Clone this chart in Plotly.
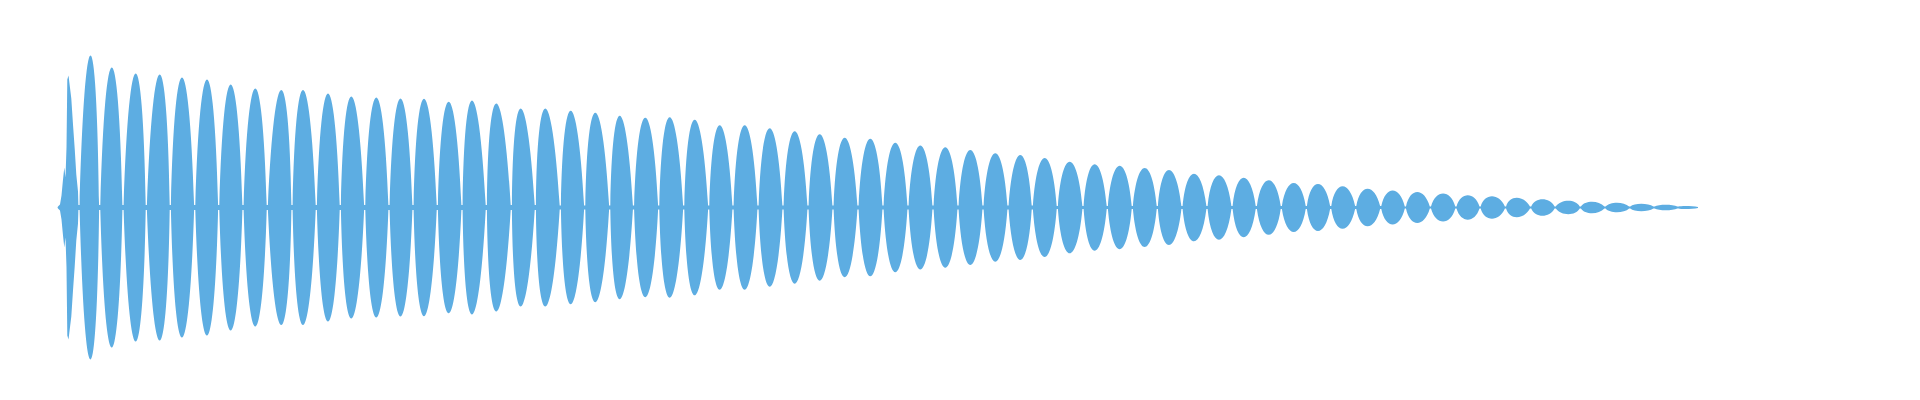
import plotly.graph_objects as go

# ---- data (time in px-like units, amplitude in px-like units) ----
# irregular attack at the start of the waveform
attack_time = [50, 52, 53.5, 55, 56.3, 57.5, 58.5, 59.3, 60.5, 63.3, 65, 66.7, 68.3, 70]
attack_amp = [1, 3, 12, 28, 40, 30, 60, 128, 132, 109, 83, 59, 33, 16]

# beat lobes (peak positions and peak amplitudes), lobes 2..67
lobe_time = [82.5, 103.8, 127.7, 151.7, 174, 199, 222.7, 247.3, 273.3, 295,
             320, 343.3, 368.3, 392.5, 416, 440.7, 464, 488.3, 512.7, 537.3,
             562.7, 587.3, 611.7, 637.3, 661.7, 686.7, 711.7, 736.7, 761.7, 786.7,
             811.7, 836.7, 862.3, 887.3, 912.3, 937.3, 962.3, 987.3, 1012.3, 1036.7,
             1061.7, 1086.7, 1111.7, 1136.7, 1161, 1186, 1211, 1235.7, 1260.7, 1285.7,
             1310, 1334.6, 1359.6, 1384.7, 1409.3, 1435.1, 1459.8, 1484, 1508.7, 1534.5,
             1560.3, 1584, 1609, 1633.3, 1657.7, 1679]
lobe_amp = [152, 140, 134, 133, 130, 128, 123, 119, 117.5, 117.5,
            114, 111, 110, 109, 108.7, 105.8, 107, 104, 99, 99,
            96.7, 94.7, 91.7, 89.7, 90.2, 87.8, 82.2, 82.2, 79.3, 76.2,
            73.2, 69.7, 68.8, 64.7, 62, 60.2, 57.5, 54.2, 52.5, 49.5,
            45.8, 43.2, 41.7, 39.5, 37.5, 33.8, 32.2, 29.7, 27.3, 24.5,
            23.5, 21.2, 18.8, 17, 15.5, 14, 12.2, 11.2, 9.7, 8.3,
            6.7, 5.8, 4.8, 3.8, 2.8, 1.5]

# nodes (minima between lobes) and their residual amplitude
node_time = [71, 91.7, 115, 138.3, 162.3, 186.7, 210.7, 235, 259.3, 284,
             308.3, 332.3, 356.7, 381, 405, 429.3, 454, 478.3, 503.3, 527.3,
             552.3, 576.7, 601.7, 625.5, 650.7, 675.7, 700.7, 725, 750, 775,
             800, 825, 850, 875, 900, 925, 950, 975, 1000, 1024.3,
             1049.3, 1075, 1099.3, 1124.3, 1149.3, 1174, 1199, 1224, 1248.3, 1273.3,
             1298.3, 1322.7, 1347.7, 1372.7, 1397.4, 1422.4, 1447.9, 1472.1, 1497.5, 1522.6,
             1547.2, 1572.3, 1597, 1621.7, 1646, 1670]
node_amp = [2.5, 2.5, 2.5, 2.5, 2.5, 2.5, 2.5, 2.5, 2.5, 2.5,
            2.5, 2.5, 2.5, 2.5, 2.5, 2.5, 2.5, 2.5, 2.5, 2.5,
            2, 2, 2, 2, 2, 2, 2, 2, 2, 2,
            2, 2, 2, 2, 2, 2, 2, 2, 2, 2,
            1.5, 1.5, 1.5, 1.5, 1.5, 1.5, 1.5, 1.5, 1.5, 1.5,
            1.5, 1.5, 1.5, 1.5, 1, 1, 1, 1, 1, 1,
            1, 1, 1, 1, 1, 1]

end_time = 1690
end_amp = 0.5

# ---- style ----
COLOR = "#5DADE2"
NODE_HALF = 0.6   # half width of the pinch at each node (drawing style)
FULLNESS = 0.2    # bezier handle position (lobe shape style)

# ---- build the upper envelope as segments: (control points or None, end point) ----
start_pt = (attack_time[0] - 0.5, 0.0)
segs = []
for t, a in zip(attack_time, attack_amp):
    segs.append((None, (t, a)))
rights = [(node_time[i + 1] - NODE_HALF, node_amp[i + 1]) for i in range(len(node_time) - 1)]
rights.append((end_time, end_amp))
for nt, na, lt, la, (rx, ra) in zip(node_time, node_amp, lobe_time, lobe_amp, rights):
    lx = nt + NODE_HALF
    segs.append((None, (nt - NODE_HALF, na)))
    segs.append((None, (lx, na)))
    w = rx - lx
    shift = (lt - (lx + rx) / 2) / 0.75
    ch = (la - 0.125 * (na + ra)) / 0.75
    c1 = (lx + FULLNESS * w + shift, ch)
    c2 = (rx - FULLNESS * w + shift, ch)
    segs.append(((c1, c2), (rx, ra)))

pts = [start_pt] + [s[1] for s in segs]


def fmt(p, sign=1):
    return f"{p[0]:.3f},{sign * p[1]:.3f}"


path = ["M " + fmt(start_pt)]
for ctrl, end in segs:
    if ctrl is None:
        path.append("L " + fmt(end))
    else:
        path.append("C " + fmt(ctrl[0]) + " " + fmt(ctrl[1]) + " " + fmt(end))
# go down to the mirrored last point and come back along the lower envelope
path.append("L " + fmt(pts[-1], -1))
for i in range(len(segs) - 1, -1, -1):
    ctrl, _ = segs[i]
    back = pts[i]
    if ctrl is None:
        path.append("L " + fmt(back, -1))
    else:
        path.append("C " + fmt(ctrl[1], -1) + " " + fmt(ctrl[0], -1) + " " + fmt(back, -1))
path.append("Z")
path_str = " ".join(path)

fig = go.Figure()
# lobe peaks as (invisible) anchor points for the axes
fig.add_trace(go.Scatter(
    x=lobe_time, y=lobe_amp, mode="markers",
    marker=dict(size=1, color=COLOR, opacity=0),
    hoverinfo="skip", showlegend=False))

fig.add_shape(type="path", path=path_str, xref="x", yref="y",
              fillcolor=COLOR, line=dict(width=0), layer="above")

fig.update_layout(
    width=1920, height=400,
    margin=dict(l=0, r=0, t=0, b=0),
    paper_bgcolor="white", plot_bgcolor="white",
    xaxis=dict(range=[0, 1920], visible=False, showgrid=False, zeroline=False),
    yaxis=dict(range=[-200.5, 199.5], visible=False, showgrid=False, zeroline=False),
)
fig.write_html("out.html")
